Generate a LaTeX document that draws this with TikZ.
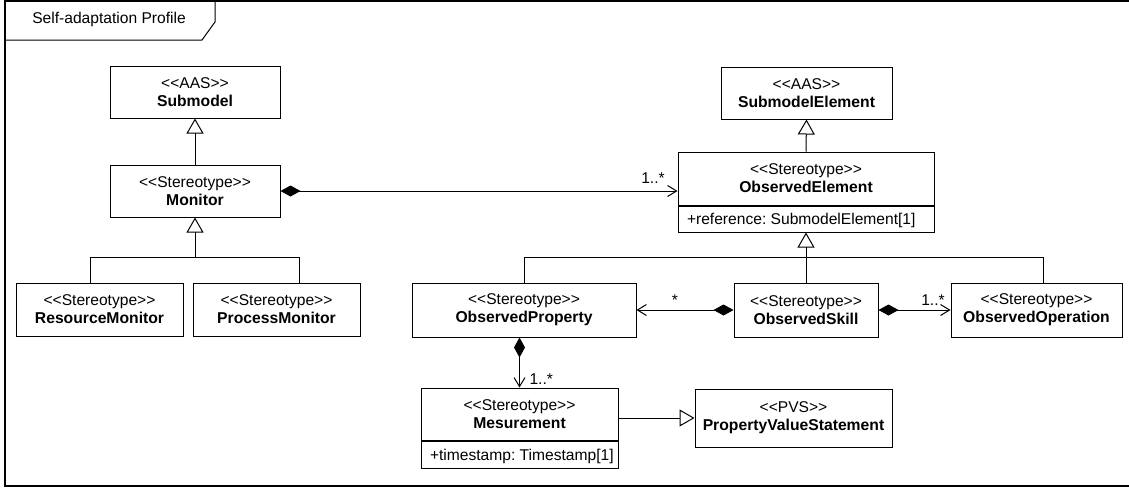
\documentclass[tikz,border=0pt]{standalone}
\usepackage{fontspec}
\setmainfont{Liberation Sans}
\usetikzlibrary{arrows.meta}
\newcommand\clsname[1]{{\fontsize{15.7}{18}\selectfont\bfseries #1}}
\begin{document}
\frenchspacing
\begin{tikzpicture}[x=1pt,y=-1pt,line width=1pt,
  txt/.style={font=\fontsize{15.6}{18}\selectfont},
  cls/.style={txt,draw,fill=white,inner sep=0pt,align=center},
  attr/.style={txt,draw,fill=white,inner sep=0pt},
  gen/.style={-{Triangle[open,length=15pt,width=17pt]}},
  comp/.style={{Diamond[length=20pt,width=11pt]}-{Straight Barb[length=9pt,width=11pt]}},
  mult/.style={txt,inner sep=0pt}]
\useasboundingbox (0,0) rectangle (1129,488);

% package frame with its name tab
\draw[line width=1.3pt] (1140,1) -- (5,1) -- (5,486) -- (1140,486);
\draw (5,40) -- (202,40) -- (215,22) -- (215,1);
\node[txt,inner sep=0pt] (title) at (109,19) {Self-adaptation Profile};

% classes
\node[cls,minimum width=170pt,minimum height=52pt] (sub) at (195,92)
  {<{}<AAS>{}>\\\clsname{Submodel}};
\node[cls,minimum width=170pt,minimum height=52pt] (mon) at (195,191)
  {<{}<Stereotype>{}>\\\clsname{Monitor}};
\node[cls,minimum width=167pt,minimum height=53pt] (res) at (99.5,309.5)
  {<{}<Stereotype>{}>\\\clsname{ResourceMonitor}};
\node[cls,minimum width=167pt,minimum height=53pt] (proc) at (276.5,309.5)
  {<{}<Stereotype>{}>\\\clsname{ProcessMonitor}};

\node[cls,minimum width=171pt,minimum height=52pt] (se) at (806.5,93)
  {<{}<AAS>{}>\\\clsname{SubmodelElement}};
\node[cls,minimum width=256pt,minimum height=53pt] (oe) at (806,178.5)
  {<{}<Stereotype>{}>\\\clsname{ObservedElement}};
\node[attr,anchor=north] (oea) at (oe.south)
  {\makebox[256pt][l]{\hspace{9pt}+reference: SubmodelElement[1]}\rule[-8pt]{0pt}{26pt}};

\node[cls,minimum width=224pt,minimum height=54pt] (op) at (524,310)
  {<{}<Stereotype>{}>\\\clsname{ObservedProperty}};
\node[cls,minimum width=144pt,minimum height=54pt] (sk) at (806,310)
  {<{}<Stereotype>{}>\\\clsname{ObservedSkill}};
\node[cls,minimum width=171pt,minimum height=54pt] (oo) at (1036.5,310)
  {<{}<Stereotype>{}>\\\clsname{ObservedOperation}};

\node[cls,minimum width=197pt,minimum height=52pt] (me) at (519.5,414)
  {<{}<Stereotype>{}>\\\clsname{Mesurement}};
\node[attr,anchor=north] (mea) at (me.south)
  {\makebox[197pt][l]{\hspace{9pt}+timestamp: Timestamp[1]}\rule[-8pt]{0pt}{27pt}};
\node[cls,minimum width=197pt,minimum height=58pt] (pvs) at (793.5,418)
  {<{}<PVS>{}>\\\clsname{PropertyValueStatement}};

% generalizations
\coordinate (j1) at (195,257);
\coordinate (j2) at (806,257);
\draw[gen] (mon.north) -- (sub.south);
\draw ([xshift=-9.5pt]res.north) |- (j1);
\draw ([xshift=22.5pt]proc.north) |- (j1);
\draw[gen] (j1) -- (mon.south);
\draw[gen] (oe.north) -- (se.south);
\draw (op.north) |- (j2);
\draw ([xshift=6.5pt]oo.north) |- (j2);
\draw (sk.north) -- (j2);
\draw[gen] (j2) -- (oea.south);
\draw[gen] (pvs.west -| me.east) -- (pvs.west);

% compositions
\draw[comp] (mon.east) -- (mon.east -| oe.west);
\draw[comp] (sk.west) -- (op.east);
\draw[comp] (sk.east) -- (oo.west);
\draw[comp] ([xshift=-4.5pt]op.south) -- (me.north);

% multiplicities
\node[mult] (m1) at (653,178) {1..*};
\node[mult] (m2) at (675,300) {*};
\node[mult] (m3) at (933,300) {1..*};
\node[mult,anchor=west] (m4) at (529,379) {1..*};
\end{tikzpicture}
\end{document}
